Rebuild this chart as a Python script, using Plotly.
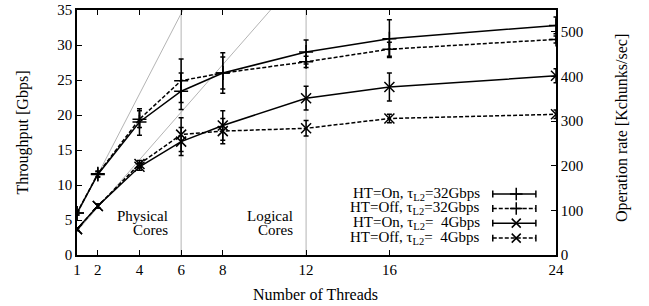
import plotly.graph_objects as go

threads = [1, 2, 4, 6, 8, 12, 16, 24]
x_ticks = [1, 2, 4, 6, 8, 12, 16, 24]

on_32 = [6.0, 11.5, 19.0, 23.4, 26.0, 29.0, 30.9, 32.8]
on_32_err = [0.3, 0.4, 1.9, 2.6, 2.3, 1.7, 2.7, 1.2]
off_32 = [6.0, 11.6, 19.4, 24.9, 26.0, 27.6, 29.4, 30.8]
off_32_err = [0.3, 0.4, 1.2, 3.1, 2.9, 0.8, 1.0, 0.5]
on_4 = [3.7, 7.0, 12.6, 16.2, 18.5, 22.4, 24.0, 25.6]
on_4_err = [0.2, 0.3, 0.5, 2.0, 2.1, 1.7, 2.0, 1.0]
off_4 = [3.7, 7.0, 13.0, 17.2, 17.7, 18.1, 19.5, 20.1]
off_4_err = [0.2, 0.3, 0.5, 2.4, 1.8, 1.1, 0.6, 0.6]

ideal_slopes = [5.75, 3.4]
core_marks = [6, 12]
y_max = 35
rate_max = 549
rate_ticks = [0, 100, 200, 300, 400, 500]

names = ["HT=On, τ<sub>L2</sub>=32Gbps", "HT=Off, τ<sub>L2</sub>=32Gbps",
         "HT=On, τ<sub>L2</sub>=\u00a0\u00a04Gbps", "HT=Off, τ<sub>L2</sub>=\u00a0\u00a04Gbps"]
series = [on_32, off_32, on_4, off_4]
errors = [on_32_err, off_32_err, on_4_err, off_4_err]
dashes = ["solid", "dash", "solid", "dash"]
symbols = ["cross-thin", "cross-thin", "x-thin", "x-thin"]

region_labels = [("Physical", "Cores", 5.45), ("Logical", "Cores", 11.45)]

x_title = "Number of Threads"
y_title = "Throughput [Gbps]"
y2_title = "Operation rate [Kchunks/sec]"

FONT = "Liberation Serif"
FS = 15
fig = go.Figure()

# ideal scaling lines (gray)
for s in ideal_slopes:
    xe = y_max / s
    fig.add_trace(go.Scatter(x=[0, xe], y=[0, y_max], mode="lines",
                             line=dict(color="#b4b4b4", width=1), showlegend=False,
                             hoverinfo="skip"))
for c in core_marks:
    fig.add_trace(go.Scatter(x=[c, c], y=[0, y_max], mode="lines",
                             line=dict(color="#b4b4b4", width=1), showlegend=False,
                             hoverinfo="skip"))

for ys, es, d, sym, n in zip(series, errors, dashes, symbols, names):
    fig.add_trace(go.Scatter(
        x=threads, y=ys, mode="lines+markers", name=n, showlegend=False,
        line=dict(color="black", width=1.5, dash="4px,2px" if d == "dash" else "solid"),
        marker=dict(symbol=sym, size=10, color="black", line=dict(color="black", width=1.5)),
        error_y=dict(type="data", array=es, visible=True, color="black", thickness=1.5, width=2.5),
    ))

# right axis carrier (invisible)
fig.add_trace(go.Scatter(x=[threads[0]], y=[0], yaxis="y2", mode="markers",
                         marker=dict(opacity=0), showlegend=False, hoverinfo="skip"))

# custom gnuplot-style legend (text left, sample right)
leg_rows = [0.249, 0.190, 0.130, 0.069]
leg_x0, leg_x1, leg_xm, leg_text = 0.868, 0.958, 0.917, 0.845
for row, d, sym, n in zip(leg_rows, dashes, symbols, names):
    fig.add_trace(go.Scatter(
        x=[leg_x0, leg_x1], y=[row, row], mode="lines", xaxis="x3", yaxis="y3",
        line=dict(color="black", width=1.5, dash="4px,2px" if d == "dash" else "solid"),
        error_y=dict(type="constant", value=0.014, visible=True, color="black", thickness=1.5, width=0),
        showlegend=False, hoverinfo="skip"))
    fig.add_trace(go.Scatter(
        x=[leg_xm], y=[row], mode="markers", xaxis="x3", yaxis="y3",
        marker=dict(symbol=sym, size=9, color="black", line=dict(color="black", width=1.5)),
        showlegend=False, hoverinfo="skip"))
    fig.add_annotation(x=leg_text, y=row, xref="x3", yref="y3", text=n, showarrow=False,
                       xanchor="right", yanchor="middle", font=dict(family=FONT, size=FS, color="black"))

for l1, l2, xr in region_labels:
    fig.add_annotation(x=xr, y=5.6, text=l1, showarrow=False, xanchor="right",
                       yanchor="middle", font=dict(family=FONT, size=FS, color="black"))
    fig.add_annotation(x=xr, y=3.55, text=l2, showarrow=False, xanchor="right",
                       yanchor="middle", font=dict(family=FONT, size=FS, color="black"))

# axis titles as paper annotations
title_font = dict(family=FONT, size=16, color="black")
fig.add_annotation(x=0.497, y=-0.163, xref="paper", yref="paper", text=x_title, showarrow=False,
                   xanchor="center", yanchor="middle", font=title_font)
fig.add_annotation(x=-0.1148, y=0.5, xref="paper", yref="paper", text=y_title, showarrow=False,
                   textangle=-90, xanchor="center", yanchor="middle", font=title_font)
fig.add_annotation(x=1.1378, y=0.518, xref="paper", yref="paper", text=y2_title, showarrow=False,
                   textangle=-90, xanchor="center", yanchor="middle", font=title_font)

axis_common = dict(showgrid=False, zeroline=False, showline=True, linecolor="black", linewidth=1.5,
                   ticks="inside", ticklen=5, tickcolor="black", tickwidth=1, automargin=False,
                   tickfont=dict(family=FONT, size=FS, color="black"))

fig.update_layout(
    width=649, height=306,
    margin=dict(l=77, r=93, t=10, b=51, autoexpand=False),
    paper_bgcolor="white", plot_bgcolor="white",
    font=dict(family=FONT, size=FS, color="black"),
    xaxis=dict(range=[1, 24], tickvals=x_ticks, mirror="ticks", **axis_common),
    yaxis=dict(range=[0, y_max], dtick=5, mirror=True, **axis_common),
    yaxis2=dict(range=[0, rate_max], tickvals=rate_ticks, overlaying="y", side="right", **axis_common),
    xaxis3=dict(range=[0, 1], overlaying="x", visible=False, anchor="y3"),
    yaxis3=dict(range=[0, 1], overlaying="y", visible=False, anchor="x3"),
)

fig.write_html("out.html", config={"displayModeBar": False},
               post_script="document.body.style.margin='0';document.body.style.overflow='hidden';")
